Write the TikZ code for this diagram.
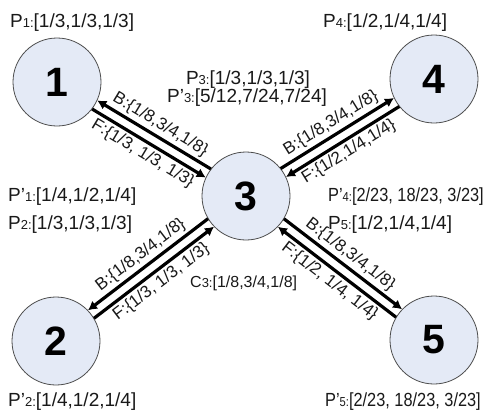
\documentclass[tikz,border=0pt]{standalone}
\usepackage{fontspec}
\setmainfont{Liberation Sans}
\usetikzlibrary{arrows.meta,calc}
\definecolor{nodefill}{RGB}{228,234,246}
\newcommand\smallsub[1]{{\fontsize{13}{13}\selectfont #1}}
\begin{document}
\begin{tikzpicture}[x=1pt,y=-1pt,
  state/.style={circle,draw=black!70,line width=0.8pt,fill=nodefill,minimum size=88pt,inner sep=0pt,font=\fontsize{41}{41}\selectfont\bfseries},
  plabel/.style={inner sep=0pt,font=\fontsize{19}{19}\selectfont,text=black!90},
  flow/.style={line width=3.2pt,-{Latex[length=9pt,width=10pt]},shorten <=44pt,shorten >=44pt},
  elabel/.style={font=\fontsize{17}{17}\selectfont,sloped,inner sep=2.5pt,text=black!90}]
\useasboundingbox (0,0) rectangle (487,410);
\node[state] (n1) at (57,82) {1};
\node[state] (n4) at (434,79) {4};
\node[state] (n3) at (246,196) {3};
\node[state] (n2) at (56,341) {2};
\node[state] (n5) at (434,340) {5};

% edge 3-1
\draw[flow] ($(n3.center)!5pt!-90:(n1.center)$) -- node[elabel,above]{B:\{1/8,3/4,1/8\}} ($(n1.center)!5pt!90:(n3.center)$);
\draw[flow] ($(n1.center)!5pt!-90:(n3.center)$) -- node[elabel,below]{F:\{1/3, 1/3, 1/3\}} ($(n3.center)!5pt!90:(n1.center)$);
% edge 3-4
\draw[flow] ($(n3.center)!5pt!90:(n4.center)$) -- node[elabel,above]{B:\{1/8,3/4,1/8\}} ($(n4.center)!5pt!-90:(n3.center)$);
\draw[flow] ($(n4.center)!5pt!90:(n3.center)$) -- node[elabel,below]{F:\{1/2,1/4,1/4\}} ($(n3.center)!5pt!-90:(n4.center)$);
% edge 3-2
\draw[flow] ($(n3.center)!5pt!-90:(n2.center)$) -- node[elabel,above]{B:\{1/8,3/4,1/8\}} ($(n2.center)!5pt!90:(n3.center)$);
\draw[flow] ($(n2.center)!5pt!-90:(n3.center)$) -- node[elabel,below]{F:\{1/3, 1/3, 1/3\}} ($(n3.center)!5pt!90:(n2.center)$);
% edge 3-5
\draw[flow] ($(n3.center)!5pt!90:(n5.center)$) -- node[elabel,above]{B:\{1/8,3/4,1/8\}} ($(n5.center)!5pt!-90:(n3.center)$);
\draw[flow] ($(n5.center)!5pt!90:(n3.center)$) -- node[elabel,below]{F:\{1/2, 1/4, 1/4\}} ($(n3.center)!5pt!-90:(n5.center)$);

\node[plabel,anchor=west] (p1) at (10,23) {P\smallsub{1:}[1/3,1/3,1/3]};
\node[plabel,anchor=west] (p4) at (323,23) {P\smallsub{4:}[1/2,1/4,1/4]};
\node[plabel] (p3) at (248,80) {P\smallsub{3:}[1/3,1/3,1/3]};
\node[plabel] (pp3) at (247,98) {P’\smallsub{3:}[5/12,7/24,7/24]};
\node[plabel,anchor=west] (pp1) at (8,197) {P’\smallsub{1:}[1/4,1/2,1/4]};
\node[plabel,anchor=west] (p2) at (8,225) {P\smallsub{2:}[1/3,1/3,1/3]};
\node[plabel,anchor=west] (pp4) at (328,197) {\scalebox{0.86}[1]{P’\smallsub{4:}[2/23, 18/23, 3/23]}};
\node[plabel,anchor=west] (p5) at (328,225) {P\smallsub{5:}[1/2,1/4,1/4]};
\node[plabel,anchor=west,font=\fontsize{16}{16}\selectfont] (c3) at (190,283) {C\smallsub{3:}[1/8,3/4,1/8]};
\node[plabel,anchor=west] (pp2) at (8,402) {P’\smallsub{2:}[1/4,1/2,1/4]};
\node[plabel,anchor=west] (pp5) at (325,402) {\scalebox{0.86}[1]{P’\smallsub{5:}[2/23, 18/23, 3/23]}};
\end{tikzpicture}
\end{document}
